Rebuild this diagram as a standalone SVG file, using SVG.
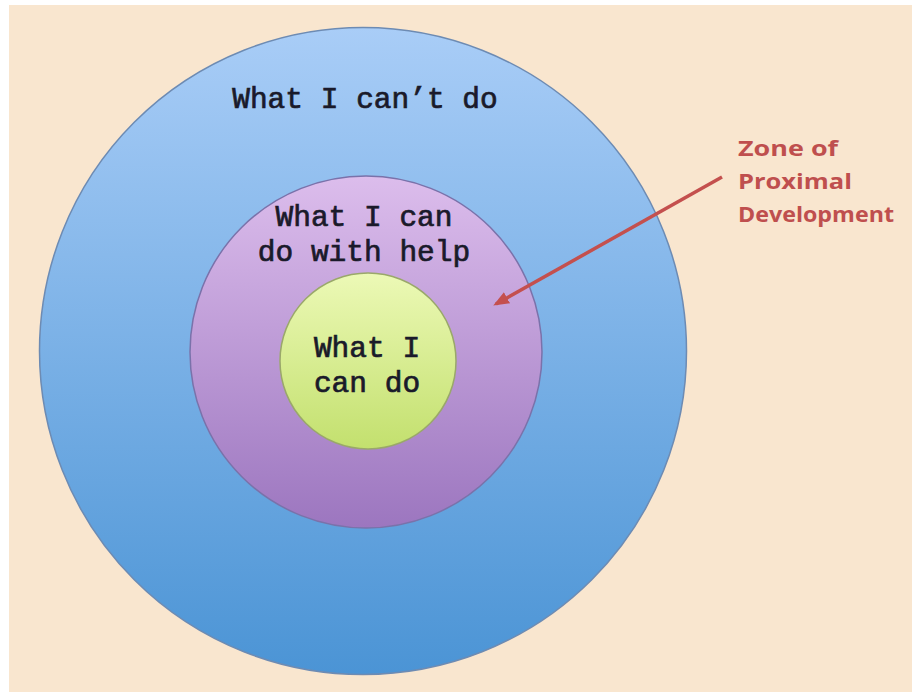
<svg xmlns="http://www.w3.org/2000/svg" width="912" height="695" viewBox="0 0 912 695">
<defs>
<linearGradient id="gBlue" x1="0" y1="0" x2="0" y2="1">
<stop offset="0" stop-color="#a9cdf7"/>
<stop offset="1" stop-color="#4b94d5"/>
</linearGradient>
<linearGradient id="gPurple" x1="0" y1="0" x2="0" y2="1">
<stop offset="0" stop-color="#dcbdec"/>
<stop offset="1" stop-color="#9c76bf"/>
</linearGradient>
<linearGradient id="gGreen" x1="0" y1="0" x2="0" y2="1">
<stop offset="0" stop-color="#ecf9b6"/>
<stop offset="1" stop-color="#c3e06e"/>
</linearGradient>
<marker id="ah" viewBox="0 0 10 10" refX="8" refY="5" markerWidth="4.5" markerHeight="4.5" orient="auto" markerUnits="strokeWidth">
<path d="M0,1 L10,5 L0,9 z" fill="#c4504e"/>
</marker>
<style>
.mono{font-family:"Liberation Mono","Courier New",monospace;font-size:29.5px;fill:#1a1a2a;stroke:#1a1a2a;stroke-width:0.7;text-anchor:middle}
.zpd{font-family:"Open Sans","Liberation Sans",sans-serif;font-size:21px;font-weight:bold;fill:#bf4f4e}
</style>
</defs>
<rect x="0" y="0" width="912" height="695" fill="#ffffff"/>
<rect x="9" y="5" width="903" height="687" fill="#f9e6cf"/>
<g id="outer">
<circle cx="363" cy="351" r="323.5" fill="url(#gBlue)" stroke="#6d8bb3" stroke-width="1.5"/>
<text class="mono" x="365" y="108">What I can’t do</text>
</g>
<g id="middle">
<circle cx="366" cy="352" r="176" fill="url(#gPurple)" stroke="#7a72aa" stroke-width="1.5"/>
<text class="mono" x="364" y="226">What I can</text>
<text class="mono" x="364" y="261">do with help</text>
</g>
<g id="inner">
<circle cx="368" cy="361" r="88" fill="url(#gGreen)" stroke="#9aa86a" stroke-width="1.5"/>
<text class="mono" x="367" y="357">What I</text>
<text class="mono" x="367" y="392">can do</text>
</g>
<g id="label">
<text class="zpd" x="738" y="156" textLength="100" lengthAdjust="spacingAndGlyphs">Zone of</text>
<text class="zpd" x="738" y="189" textLength="114" lengthAdjust="spacingAndGlyphs">Proximal</text>
<text class="zpd" x="738" y="222" textLength="156" lengthAdjust="spacingAndGlyphs">Development</text>
</g>
<g id="connectors">
<line x1="722" y1="177" x2="496" y2="304" stroke="#c4504e" stroke-width="3.5" marker-end="url(#ah)"/>
</g>
</svg>
